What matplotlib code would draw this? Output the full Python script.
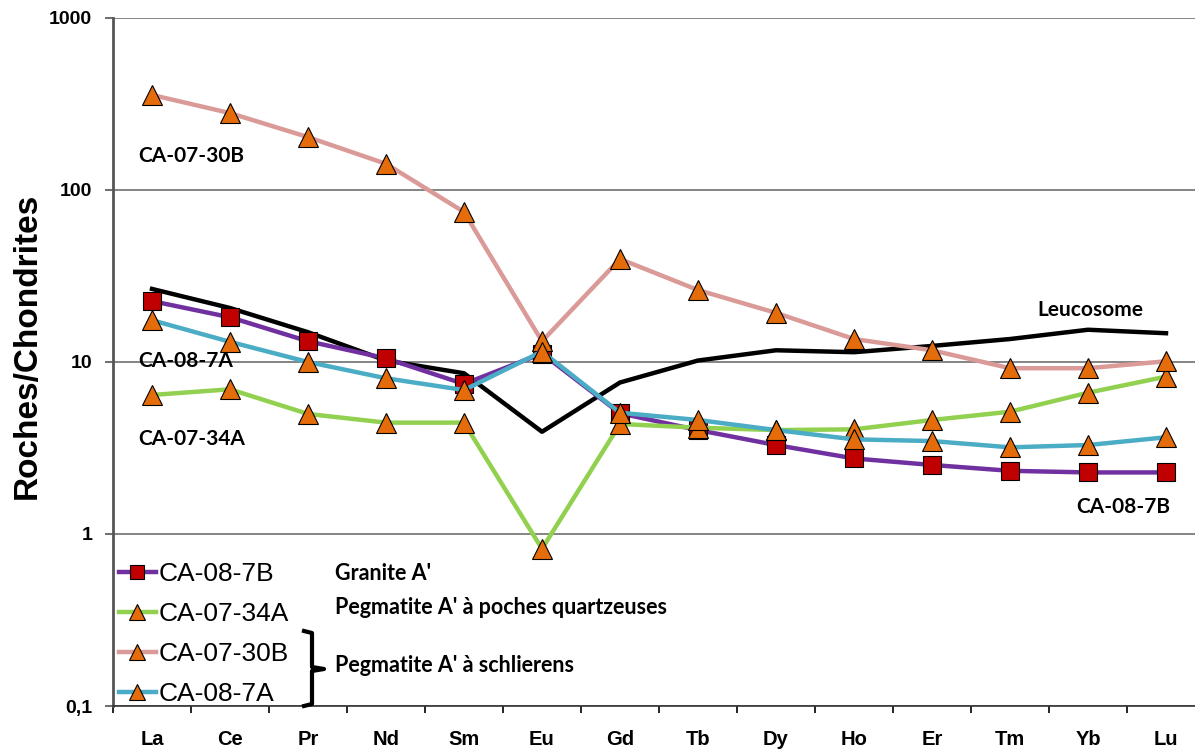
import matplotlib.pyplot as plt

elements = ["La", "Ce", "Pr", "Nd", "Sm", "Eu", "Gd", "Tb", "Dy", "Ho", "Er", "Tm", "Yb", "Lu"]
ca_08_7b = [22.6, 18.2, 13.2, 10.5, 7.45, 11.2, 5.03, 4.02, 3.29, 2.75, 2.52, 2.33, 2.28, 2.28]
ca_07_34a = [6.43, 6.94, 4.99, 4.44, 4.44, 0.82, 4.36, 4.15, 4.02, 4.06, 4.6, 5.14, 6.63, 8.22]
ca_07_30b = [357, 280, 203, 142, 74.5, 13.2, 39.7, 26.2, 19.3, 13.6, 11.7, 9.2, 9.2, 10.1]
ca_08_7a = [17.5, 13.1, 10.0, 8.04, 6.87, 11.5, 5.07, 4.6, 4.02, 3.55, 3.47, 3.19, 3.29, 3.65]
leucosome = [26.6, 20.6, 14.9, 10.2, 8.6, 3.93, 7.6, 10.2, 11.7, 11.4, 12.4, 13.6, 15.4, 14.7]

orange = "#E46C0A"
x = list(range(len(elements)))

fig = plt.figure(figsize=(11.95, 7.49), dpi=100)
ax = fig.add_axes([113 / 1195, 43 / 749, 1092 / 1195, 688 / 749])

ax.plot(x, leucosome, color="black", lw=3.2, zorder=2)
l1, = ax.plot(x, ca_08_7b, color="#7030A0", lw=3.2, marker="s", ms=13,
              mfc="#C00000", mec="black", mew=0.8, label="CA-08-7B", zorder=3)
l2, = ax.plot(x, ca_07_34a, color="#92D050", lw=3.2, marker="^", ms=14,
              mfc=orange, mec="black", mew=0.8, label="CA-07-34A", zorder=3)
l3, = ax.plot(x, ca_07_30b, color="#DA9A97", lw=3.2, marker="^", ms=14,
              mfc=orange, mec="black", mew=0.8, label="CA-07-30B", zorder=3)
l4, = ax.plot(x, ca_08_7a, color="#4BACC6", lw=3.2, marker="^", ms=14,
              mfc=orange, mec="black", mew=0.8, label="CA-08-7A", zorder=3)

ax.set_yscale("log")
ax.set_ylim(0.1, 1000)
ax.set_xlim(-0.5, 13.5)
ax.set_yticks([0.1, 1, 10, 100, 1000])
ax.set_yticklabels(["0,1", "1", "10", "100", "1000"], fontsize=14,
                   fontweight="bold", family="Liberation Sans")
ax.minorticks_off()
ax.yaxis.grid(True, color="#707070", lw=1.2)
ax.tick_params(axis="y", length=6, width=1.2, pad=9, color="#555555")

ax.set_xticks([i - 0.5 for i in range(len(elements) + 1)])
ax.set_xticklabels([])
ax.set_xticks(x, minor=True)
ax.set_xticklabels(elements, minor=True, fontsize=14.5, fontweight="bold",
                   family="Liberation Sans")
ax.tick_params(axis="x", which="major", length=5, width=1.2)
ax.tick_params(axis="x", which="minor", length=0, pad=17)

for s in ["top", "right"]:
    ax.spines[s].set_visible(False)
ax.spines["left"].set_linewidth(2)
ax.spines["left"].set_color("#555555")
ax.spines["bottom"].set_linewidth(1.2)
ax.spines["bottom"].set_color("#333333")

ax.set_ylabel("Roches/Chondrites", fontsize=24, fontweight="bold",
              family="Liberation Sans")
ax.yaxis.set_label_coords(-0.064, 0.523)

lab = dict(fontsize=15, fontweight="bold", family="Lato")
ax.text(-0.17, 158, "CA-07-30B", va="center", **lab)
ax.text(-0.17, 10.1, "CA-08-7A", va="center", **lab)
ax.text(-0.17, 3.55, "CA-07-34A", va="center", **lab)
ax.text(11.35, 20.0, "Leucosome", va="center", **lab)
ax.text(11.85, 1.44, "CA-08-7B", va="center", **lab)

leg = fig.legend(handles=[l1, l2, l3, l4], loc="center left",
                 bbox_to_anchor=(119 / 1195, 1 - 634 / 749), frameon=False,
                 prop={"family": "Liberation Sans", "size": 19},
                 handlelength=1.4, handletextpad=0.1, labelspacing=0.6,
                 borderpad=0, borderaxespad=0, markerscale=0.8)

grp = dict(fontsize=15.5, fontweight="bold", family="Lato")
fig.text(335 / 1195, 1 - 573 / 749, "Granite A'", va="center", **grp)
fig.text(335 / 1195, 1 - 608 / 749, "Pegmatite A' à poches quartzeuses", va="center", **grp)
fig.text(335 / 1195, 1 - 666 / 749, "Pegmatite A' à schlierens", va="center", **grp)

# accolade pour les deux échantillons à schlierens
bx = [304, 312, 312, 324, 312, 312, 304]
by = [631, 633, 667, 669, 671, 704, 706]
fig.add_artist(plt.Line2D([v / 1195 for v in bx], [1 - v / 749 for v in by],
                          color="black", lw=3, transform=fig.transFigure))

plt.savefig("out.png", dpi=100)
